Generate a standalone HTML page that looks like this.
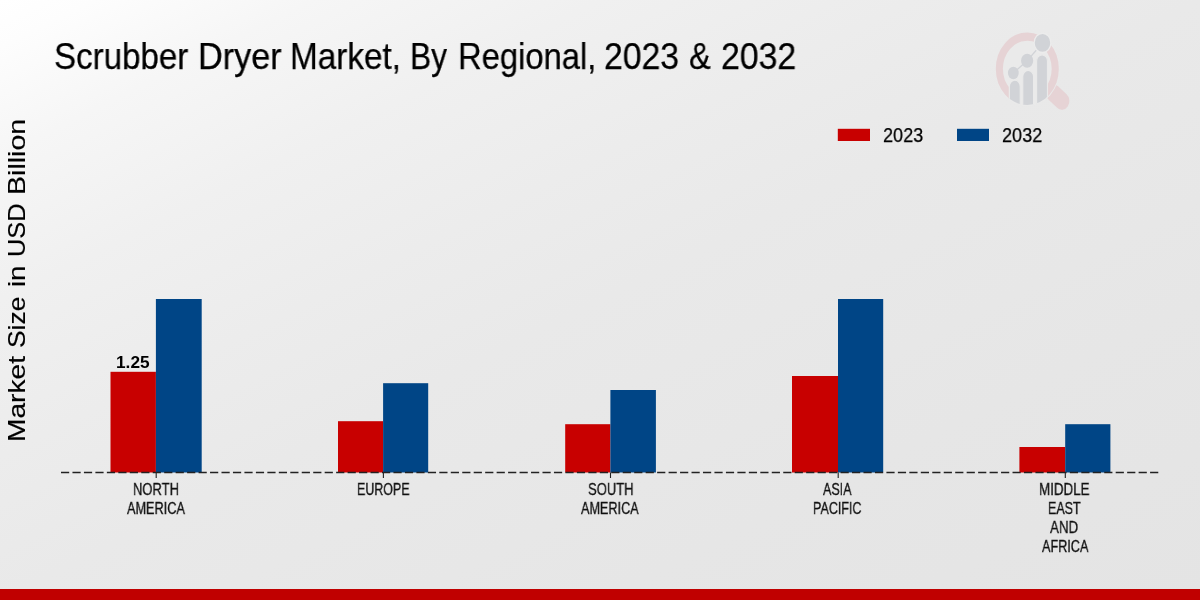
<!DOCTYPE html>
<html lang="en">
<head>
<meta charset="utf-8">
<title>Scrubber Dryer Market, By Regional, 2023 &amp; 2032</title>
<style>
html,body{margin:0;padding:0;}
body{width:1200px;height:600px;overflow:hidden;position:relative;
  font-family:"Liberation Sans",sans-serif;color:#000;
  background:linear-gradient(to bottom right,#ffffff 0%,#fdfdfd 4%,#f6f6f6 13%,#f0f0f0 25%,#ececec 38%,#e9e9e9 50%,#e6e6e6 75%,#e4e4e4 100%);}
.t{position:absolute;white-space:nowrap;line-height:1;transform-origin:0 0;margin:0;padding:0;will-change:transform;-webkit-font-smoothing:antialiased;}
.tick{color:#111;-webkit-text-stroke:0.3px #111;}
.val{font-weight:bold;}
.ttl{-webkit-text-stroke:0.25px #000;}
.leg{-webkit-text-stroke:0.25px #000;}
.yl{-webkit-text-stroke:0.2px #000;}
svg{position:absolute;left:0;top:0;}
#band{position:absolute;left:0;top:589px;width:1200px;height:11px;background:#c00000;}
</style>
</head>
<body>
<svg width="1200" height="600" viewBox="0 0 1200 600">
  <defs>
    <clipPath id="lc"><circle cx="0" cy="0" r="36.3"/></clipPath>
    <clipPath id="lc2"><circle cx="0" cy="0" r="37.4"/></clipPath>
  </defs>
  <g id="logo" transform="translate(1027.3,68.8) scale(0.868,1)">
    <line x1="30" y1="24.3" x2="39.8" y2="32.2" stroke="#e6d3d5" stroke-width="17.4" stroke-linecap="round"/>
    <circle cx="0" cy="0" r="37.4" fill="#eaeaea"/>
    <circle cx="0" cy="0" r="32.2" fill="none" stroke="#e6d3d5" stroke-width="8.2"/>
    <g clip-path="url(#lc2)"><rect x="-21.3" y="14" width="45.2" height="30" fill="#eaeaea"/></g>
    <g stroke="#d1d3d7" stroke-width="1.4" fill="none">
      <line x1="-16.1" y1="4.2" x2="-0.2" y2="-8"/>
      <line x1="-0.2" y1="-8" x2="17.5" y2="-25.9"/>
    </g>
    <g clip-path="url(#lc)" fill="#d1d3d7" stroke="#eaeaea" stroke-width="1.2">
      <rect x="-20.6" y="11.4" width="12.4" height="40" rx="6.2"/>
      <rect x="-5.2" y="1.6" width="12.4" height="50" rx="6.2"/>
      <rect x="10.8" y="-14" width="12.4" height="65" rx="6.2"/>
    </g>
    <circle cx="-16.1" cy="4.2" r="6.2" fill="#d1d3d7"/>
    <circle cx="-0.2" cy="-8" r="7" fill="#d1d3d7"/>
    <circle cx="17.5" cy="-25.9" r="9.6" fill="#d1d3d7" stroke="#ececec" stroke-width="1.4"/>
  </g>
  <g id="bars">
    <rect x="110.5" y="371.8" width="45.4" height="100.7" fill="#c80000"/>
    <rect x="155.9" y="299" width="45.8" height="173.5" fill="#004586"/>
    <rect x="338" y="421.2" width="45.1" height="51.3" fill="#c80000"/>
    <rect x="383.1" y="383.2" width="45.1" height="89.3" fill="#004586"/>
    <rect x="565.2" y="424.2" width="45.2" height="48.3" fill="#c80000"/>
    <rect x="610.4" y="390" width="45.5" height="82.5" fill="#004586"/>
    <rect x="792" y="376" width="46" height="96.5" fill="#c80000"/>
    <rect x="838" y="299" width="45.2" height="173.5" fill="#004586"/>
    <rect x="1019.4" y="447" width="45.8" height="25.5" fill="#c80000"/>
    <rect x="1065.2" y="424.2" width="45.2" height="48.3" fill="#004586"/>
  </g>
  <g id="legend">
    <rect x="837.8" y="128.8" width="32.2" height="12.2" fill="#c80000"/>
    <rect x="957" y="128.8" width="32" height="12.2" fill="#004586"/>
  </g>
  <g id="axis" stroke="#222" fill="none">
    <line x1="61" y1="472.45" x2="1158.35" y2="472.45" stroke-width="1.4" stroke-dasharray="8.2 3.264"/>
    <g stroke-width="1.1">
      <line x1="156.2" y1="472.5" x2="156.2" y2="478"/>
      <line x1="383.4" y1="472.5" x2="383.4" y2="478"/>
      <line x1="610.5" y1="472.5" x2="610.5" y2="478"/>
      <line x1="838.2" y1="472.5" x2="838.2" y2="478"/>
      <line x1="1065.3" y1="472.5" x2="1065.3" y2="478"/>
    </g>
  </g>
</svg>
<div class="t ttl" id="w1" style="left:54.30px;top:39.00px;font-size:36.00px;transform:scaleX(0.9197);">Scrubber</div>
<div class="t ttl" id="w2" style="left:197.80px;top:39.00px;font-size:36.00px;transform:scaleX(0.9499);">Dryer</div>
<div class="t ttl" id="w3" style="left:289.50px;top:39.00px;font-size:36.00px;transform:scaleX(0.9246);">Market,</div>
<div class="t ttl" id="w4" style="left:410.00px;top:39.00px;font-size:36.00px;transform:scaleX(0.8818);">By</div>
<div class="t ttl" id="w5" style="left:457.80px;top:39.00px;font-size:36.00px;transform:scaleX(0.9101);">Regional,</div>
<div class="t ttl" id="w6" style="left:604.30px;top:39.00px;font-size:36.00px;transform:scaleX(0.9377);">2023</div>
<div class="t ttl" id="w7" style="left:689.30px;top:39.00px;font-size:36.00px;transform:scaleX(0.9047);">&amp;</div>
<div class="t ttl" id="w8" style="left:721.00px;top:39.00px;font-size:36.00px;transform:scaleX(0.9397);">2032</div>
<div class="t yl" id="y1" style="left:5.48px;top:441.97px;font-size:24.00px;transform:rotate(-90deg) scaleX(1.1718);">Market</div>
<div class="t yl" id="y2" style="left:5.48px;top:347.93px;font-size:24.00px;transform:rotate(-90deg) scaleX(1.1010);">Size</div>
<div class="t yl" id="y3" style="left:5.48px;top:287.09px;font-size:24.00px;transform:rotate(-90deg) scaleX(1.1486);">in</div>
<div class="t yl" id="y4" style="left:5.48px;top:256.61px;font-size:24.00px;transform:rotate(-90deg) scaleX(1.0565);">USD</div>
<div class="t yl" id="y5" style="left:5.48px;top:194.53px;font-size:24.00px;transform:rotate(-90deg) scaleX(1.1907);">Billion</div>
<div class="t leg" id="leg1" style="left:883.18px;top:125.16px;font-size:20.00px;transform:scaleX(0.9057);">2023</div>
<div class="t leg" id="leg2" style="left:1002.16px;top:125.17px;font-size:20.00px;transform:scaleX(0.9068);">2032</div>
<div class="t val" id="val1" style="left:115.73px;top:354.00px;font-size:16.50px;transform:scaleX(1.0452);">1.25</div>
<div class="t tick" id="n1" style="left:132.60px;top:481.00px;font-size:16.40px;transform:scaleX(0.7924);">NORTH</div>
<div class="t tick" id="n2" style="left:126.97px;top:499.80px;font-size:16.40px;transform:scaleX(0.7752);">AMERICA</div>
<div class="t tick" id="e1" style="left:356.50px;top:481.00px;font-size:16.40px;transform:scaleX(0.7603);">EUROPE</div>
<div class="t tick" id="s1" style="left:587.87px;top:481.00px;font-size:16.40px;transform:scaleX(0.7941);">SOUTH</div>
<div class="t tick" id="s2" style="left:581.17px;top:499.80px;font-size:16.40px;transform:scaleX(0.7721);">AMERICA</div>
<div class="t tick" id="a1" style="left:823.17px;top:480.92px;font-size:16.40px;transform:scaleX(0.7637);">ASIA</div>
<div class="t tick" id="a2" style="left:812.54px;top:499.80px;font-size:16.40px;transform:scaleX(0.7647);">PACIFIC</div>
<div class="t tick" id="m1" style="left:1039.26px;top:481.00px;font-size:16.40px;transform:scaleX(0.8149);">MIDDLE</div>
<div class="t tick" id="m2" style="left:1047.72px;top:499.80px;font-size:16.40px;transform:scaleX(0.7624);">EAST</div>
<div class="t tick" id="m3" style="left:1049.68px;top:518.60px;font-size:16.40px;transform:scaleX(0.8138);">AND</div>
<div class="t tick" id="m4" style="left:1041.97px;top:538.40px;font-size:16.40px;transform:scaleX(0.7717);">AFRICA</div>

<div id="band"></div>
</body>
</html>
